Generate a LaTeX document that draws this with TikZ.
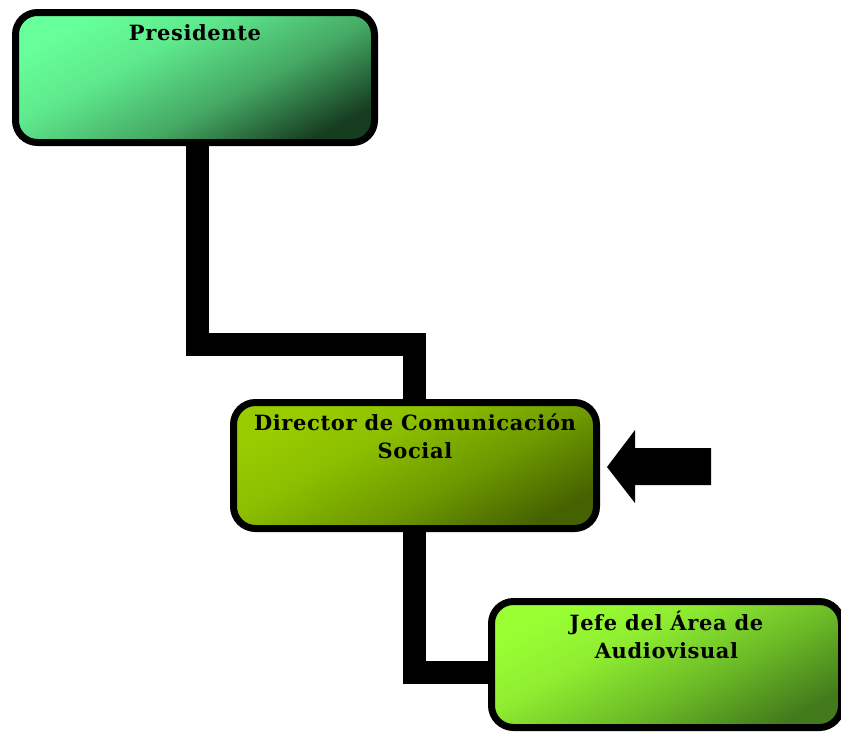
\documentclass[tikz,border=0pt]{standalone}
\usepackage{fontspec}
\setmainfont{DejaVu Serif}[LetterSpace=3]
\pgfdeclarelayer{background}
\pgfsetlayers{background,main}

% box fills: light over most of the box, darkening toward one corner
\pgfdeclareverticalshading{presshade}{100bp}{%
  rgb(0bp)=(0.09,0.24,0.13); rgb(24bp)=(0.09,0.24,0.13);
  rgb(42bp)=(0.27,0.66,0.39); rgb(60bp)=(0.37,0.91,0.55);
  rgb(74bp)=(0.40,1.00,0.60); rgb(100bp)=(0.40,1.00,0.60)}
\pgfdeclareverticalshading{dirshade}{100bp}{%
  rgb(0bp)=(0.27,0.38,0.0); rgb(24bp)=(0.27,0.38,0.0);
  rgb(42bp)=(0.43,0.60,0.0); rgb(60bp)=(0.55,0.75,0.0);
  rgb(74bp)=(0.60,0.80,0.0); rgb(100bp)=(0.60,0.80,0.0)}
\pgfdeclareverticalshading{jefeshade}{100bp}{%
  rgb(0bp)=(0.26,0.48,0.11); rgb(24bp)=(0.26,0.48,0.11);
  rgb(42bp)=(0.42,0.73,0.15); rgb(60bp)=(0.56,0.93,0.19);
  rgb(74bp)=(0.60,1.00,0.20); rgb(100bp)=(0.60,1.00,0.20)}

\begin{document}
\begin{tikzpicture}[x=1pt,y=-1pt,
  orgbox/.style={draw=black, line width=7pt, rounded corners=22pt,
    inner sep=0pt, shading=#1, shading angle=28},
  boxtext/.style={font=\fontsize{21}{28}\selectfont\bfseries, align=center,
    inner sep=0pt, anchor=base},
  conn/.style={draw=black, line width=23pt, line join=miter, line cap=butt}]
\useasboundingbox (0,0) rectangle (841,732);

% organisation boxes
\node[orgbox=presshade,
  minimum width=359pt, minimum height=130pt] (pres) at (195,77.5) {};
\node[orgbox=dirshade,
  minimum width=363pt, minimum height=126pt] (dir) at (415,465.5) {};
\node[orgbox=jefeshade,
  minimum width=350pt, minimum height=126pt] (jefe) at (666.5,664.5) {};

% connectors, drawn behind the boxes
\begin{pgfonlayer}{background}
  \draw[conn] ([xshift=2.5pt]pres.south) -- ++(0,198) -| ([xshift=-1pt]dir.north);
  \draw[conn] ([xshift=-1pt]dir.south) |- ([yshift=-8pt]jefe.west);
\end{pgfonlayer}

% labels
\node[boxtext] (tpres) at ([yshift=-31.5pt]pres.north) {Presidente};
\node[boxtext] (tdir) at ([yshift=-59.5pt]dir.north) {Director de Comunicación\\Social};
\node[boxtext] (tjefe) at ([yshift=-60.5pt]jefe.north) {Jefe del Área de\\Audiovisual};

% pointer arrow
\fill[black] (607,467) -- (635,430) -- (635,448) -- (711,448) -- (711,485)
  -- (635,485) -- (635,503) -- cycle;
\end{tikzpicture}
\end{document}
